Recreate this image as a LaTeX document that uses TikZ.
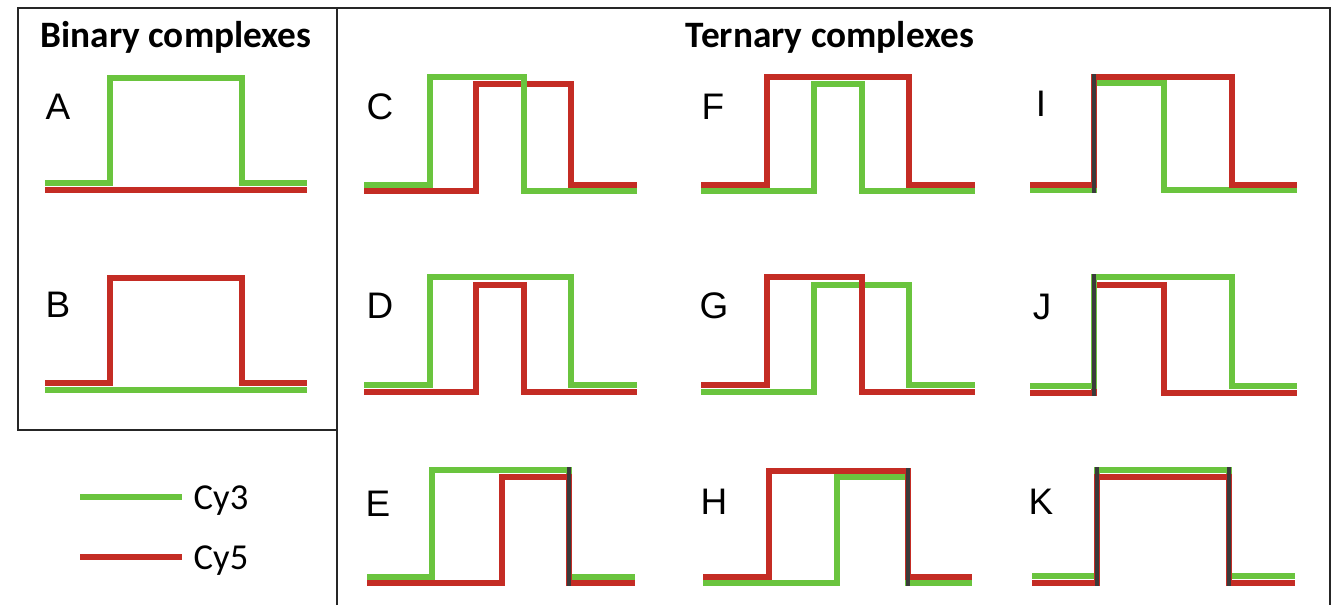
\documentclass[tikz,border=0pt]{standalone}
\usepackage{fontspec}
\setmainfont{Carlito}
\newfontfamily\letterfont{Liberation Sans}

\definecolor{cygreen}{RGB}{106,196,62}
\definecolor{cyred}{RGB}{196,44,36}
\definecolor{joint}{RGB}{58,58,58}

\tikzset{
  cy3/.style={cygreen, line width=1.8pt},
  cy5/.style={cyred, line width=1.8pt},
  both/.style={joint, line width=1.1pt},
  frame/.style={black!85, line width=0.7pt},
  title/.style={font=\fontsize{10.6}{12}\selectfont\bfseries, anchor=base},
  letter/.style={font=\letterfont\fontsize{10.5}{12}\selectfont},
  key/.style={font=\fontsize{10.4}{12}\selectfont, anchor=base west, inner sep=0pt},
}

\begin{document}
\begin{tikzpicture}[x=0.01cm, y=-0.01cm]
\useasboundingbox (0,0) rectangle (1342,605);

% frames
\draw[frame] (18,8) rectangle (337,430);
\draw[frame] (337,605) -- (337,8) -- (1330,8) -- (1330,605);
\node[title] (binary) at (176,47) {Binary complexes};
\node[title] (ternary) at (830,47) {Ternary complexes};

% binary
\node[letter] (pA) at (58,107) {A};
\draw[cy5] (45,190) -- (307,190);
\draw[cy3] (45,183) -- (110,183) -- (110,78) -- (242,78) -- (242,183) -- (307,183);
\node[letter] (pB) at (58,305) {B};
\draw[cy3] (45,390) -- (307,390);
\draw[cy5] (45,383) -- (110,383) -- (110,278) -- (242,278) -- (242,383) -- (307,383);

% legend
\draw[cy3] (80,497) -- (182,497);
\node[key] (lg3) at (193,509) {Cy3};
\draw[cy5] (80,557) -- (182,557);
\node[key] (lg5) at (193,569) {Cy5};

% C
\node[letter] (pC) at (380,107) {C};
\draw[cy5] (364,191) -- (476,191) -- (476,84) -- (571,84) -- (571,185) -- (637,185);
\draw[cy3] (364,185) -- (430,185) -- (430,77) -- (524,77) -- (524,191) -- (637,191);
% D
\node[letter] (pD) at (380,306) {D};
\draw[cy3] (364,385) -- (430,385) -- (430,277) -- (571,277) -- (571,385) -- (637,385);
\draw[cy5] (364,392) -- (476,392) -- (476,285) -- (524,285) -- (524,392) -- (637,392);
% E
\node[letter] (pE) at (378,504) {E};
\draw[cy3] (367,577) -- (432,577) -- (432,470) -- (569,470) -- (569,577) -- (635,577);
\draw[cy5] (367,583) -- (502,583) -- (502,477) -- (569,477) -- (569,583) -- (635,583);
\draw[both] (569,467) -- (569,586);

% F
\node[letter] (pF) at (713,107) {F};
\draw[cy5] (701,185) -- (767,185) -- (767,77) -- (909,77) -- (909,185) -- (975,185);
\draw[cy3] (701,191) -- (814,191) -- (814,84) -- (862,84) -- (862,191) -- (975,191);
% G
\node[letter] (pG) at (714,306) {G};
\draw[cy3] (701,392) -- (814,392) -- (814,285) -- (909,285) -- (909,385) -- (975,385);
\draw[cy5] (701,385) -- (767,385) -- (767,277) -- (862,277) -- (862,392) -- (975,392);
% H
\node[letter] (pH) at (714,502) {H};
\draw[cy3] (703,583) -- (837,583) -- (837,477) -- (908,477) -- (908,583) -- (972,583);
\draw[cy5] (703,577) -- (769,577) -- (769,471) -- (908,471) -- (908,577) -- (972,577);
\draw[both] (908,468) -- (908,586);

% I
\node[letter] (pI) at (1041,104) {I};
\draw[cy3] (1030,190) -- (1094,190) -- (1094,83) -- (1164,83) -- (1164,190) -- (1297,190);
\draw[cy5] (1030,185) -- (1094,185) -- (1094,77) -- (1232,77) -- (1232,185) -- (1297,185);
\draw[both] (1094,74) -- (1094,193);
% J
\node[letter] (pJ) at (1042,307) {J};
\draw[cy5] (1030,393) -- (1094,393) -- (1094,285) -- (1164,285) -- (1164,393) -- (1297,393);
\draw[cy3] (1030,386) -- (1094,386) -- (1094,277) -- (1232,277) -- (1232,386) -- (1297,386);
\draw[both] (1094,274) -- (1094,396);
% K
\node[letter] (pK) at (1041,502) {K};
\draw[cy3] (1032,576) -- (1097,576) -- (1097,470) -- (1229,470) -- (1229,576) -- (1295,576);
\draw[cy5] (1032,583) -- (1097,583) -- (1097,477) -- (1229,477) -- (1229,583) -- (1295,583);
\draw[both] (1097,467) -- (1097,586);
\draw[both] (1229,467) -- (1229,586);
\end{tikzpicture}
\end{document}
